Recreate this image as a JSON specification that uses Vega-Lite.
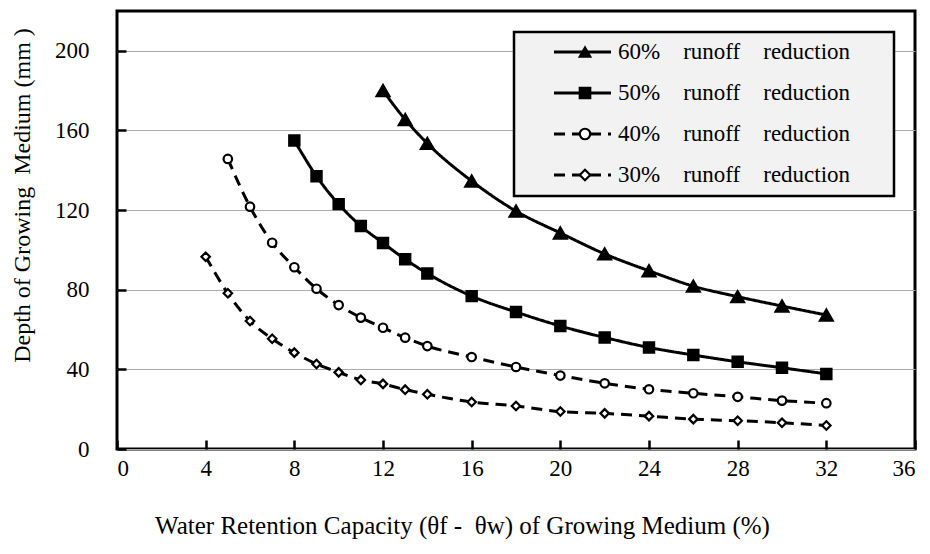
{
  "$schema": "https://vega.github.io/schema/vega-lite/v6.json",
  "width": 798,
  "height": 438,
  "autosize": {"type": "none"},
  "padding": {"left": 117, "top": 11, "right": 15, "bottom": 105},
  "background": "white",
  "config": {
    "font": "Liberation Serif",
    "view": {"stroke": "black", "strokeWidth": 3}
  },
  "datasets": {
    "curves": [
      {"s": "60%", "x": 12, "y": 180},
      {"s": "60%", "x": 13, "y": 165.5},
      {"s": "60%", "x": 14, "y": 153.5},
      {"s": "60%", "x": 16, "y": 134.6},
      {"s": "60%", "x": 18, "y": 119.5},
      {"s": "60%", "x": 20, "y": 108.5},
      {"s": "60%", "x": 22, "y": 98},
      {"s": "60%", "x": 24, "y": 89.5},
      {"s": "60%", "x": 26, "y": 81.8},
      {"s": "60%", "x": 28, "y": 76.5},
      {"s": "60%", "x": 30, "y": 71.8},
      {"s": "60%", "x": 32, "y": 67.3},
      {"s": "50%", "x": 8, "y": 155},
      {"s": "50%", "x": 9, "y": 137},
      {"s": "50%", "x": 10, "y": 123},
      {"s": "50%", "x": 11, "y": 112},
      {"s": "50%", "x": 12, "y": 103.5},
      {"s": "50%", "x": 13, "y": 95.3},
      {"s": "50%", "x": 14, "y": 88.2},
      {"s": "50%", "x": 16, "y": 76.8},
      {"s": "50%", "x": 18, "y": 68.8},
      {"s": "50%", "x": 20, "y": 61.8},
      {"s": "50%", "x": 22, "y": 56},
      {"s": "50%", "x": 24, "y": 51},
      {"s": "50%", "x": 26, "y": 47.2},
      {"s": "50%", "x": 28, "y": 43.8},
      {"s": "50%", "x": 30, "y": 40.8},
      {"s": "50%", "x": 32, "y": 37.7},
      {"s": "40%", "x": 5, "y": 145.7},
      {"s": "40%", "x": 6, "y": 121.7},
      {"s": "40%", "x": 7, "y": 103.6},
      {"s": "40%", "x": 8, "y": 91.3},
      {"s": "40%", "x": 9, "y": 80.5},
      {"s": "40%", "x": 10, "y": 72.3},
      {"s": "40%", "x": 11, "y": 66},
      {"s": "40%", "x": 12, "y": 60.9},
      {"s": "40%", "x": 13, "y": 55.9},
      {"s": "40%", "x": 14, "y": 51.7},
      {"s": "40%", "x": 16, "y": 46.2},
      {"s": "40%", "x": 18, "y": 41.2},
      {"s": "40%", "x": 20, "y": 36.9},
      {"s": "40%", "x": 22, "y": 33},
      {"s": "40%", "x": 24, "y": 30},
      {"s": "40%", "x": 26, "y": 28},
      {"s": "40%", "x": 28, "y": 26.2},
      {"s": "40%", "x": 30, "y": 24.3},
      {"s": "40%", "x": 32, "y": 23},
      {"s": "30%", "x": 4, "y": 96.6},
      {"s": "30%", "x": 5, "y": 78.2},
      {"s": "30%", "x": 6, "y": 64.3},
      {"s": "30%", "x": 7, "y": 55.4},
      {"s": "30%", "x": 8, "y": 48.4},
      {"s": "30%", "x": 9, "y": 42.7},
      {"s": "30%", "x": 10, "y": 38.5},
      {"s": "30%", "x": 11, "y": 34.7},
      {"s": "30%", "x": 12, "y": 32.7},
      {"s": "30%", "x": 13, "y": 29.8},
      {"s": "30%", "x": 14, "y": 27.5},
      {"s": "30%", "x": 16, "y": 23.6},
      {"s": "30%", "x": 18, "y": 21.6},
      {"s": "30%", "x": 20, "y": 18.8},
      {"s": "30%", "x": 22, "y": 17.9},
      {"s": "30%", "x": 24, "y": 16.5},
      {"s": "30%", "x": 26, "y": 15},
      {"s": "30%", "x": 28, "y": 14.2},
      {"s": "30%", "x": 30, "y": 13.2},
      {"s": "30%", "x": 32, "y": 11.8}
    ]
  },
  "data": {"name": "curves"},
  "encoding": {
    "x": {
      "field": "x",
      "type": "quantitative",
      "scale": {"domain": [0, 36], "nice": false, "zero": false},
      "axis": {
        "values": [0, 4, 8, 12, 16, 20, 24, 28, 32, 36],
        "grid": false,
        "domain": false,
        "tickSize": -9,
        "tickWidth": 2.5,
        "tickColor": "black",
        "labelFont": "Liberation Serif",
        "labelFontSize": 23,
        "labelColor": "black",
        "labelPadding": 17,
        "titleFont": "Liberation Serif",
        "titleFontSize": 25,
        "titleFontWeight": "normal",
        "titleColor": "black",
        "title": "Water Retention Capacity (θf -\u00a0\u00a0θw) of Growing Medium (%)",
        "titleX": 345,
        "titleY": 76,
        "titleBaseline": "middle",
        "titleAlign": "center"
      }
    },
    "y": {
      "field": "y",
      "type": "quantitative",
      "scale": {"domain": [0, 220], "nice": false},
      "axis": {
        "values": [0, 40, 80, 120, 160, 200],
        "grid": true,
        "gridColor": "#aaaaaa",
        "gridWidth": 1,
        "domain": false,
        "tickSize": -9,
        "tickWidth": 2.5,
        "tickColor": "black",
        "labelFont": "Liberation Serif",
        "labelFontSize": 23,
        "labelColor": "black",
        "labelPadding": 37,
        "titleFont": "Liberation Serif",
        "titleFontSize": 24,
        "titleFontWeight": "normal",
        "titleColor": "black",
        "title": "Depth of Growing\u00a0\u00a0Medium (mm\u00a0)",
        "titleAngle": -90,
        "titleX": -95,
        "titleY": 184,
        "titleBaseline": "middle",
        "titleAlign": "center"
      }
    }
  },
  "layer": [
    {
      "mark": {"type": "line", "interpolate": "monotone", "strokeWidth": 3, "color": "black"},
      "encoding": {
        "detail": {"field": "s"},
        "strokeDash": {
          "field": "s",
          "type": "nominal",
          "scale": {"domain": ["60%", "50%", "40%", "30%"], "range": [[1, 0], [1, 0], [11, 7], [11, 7]]},
          "legend": {
            "title": null,
            "orient": "top-right",
            "offset": 21,
            "padding": 8.5,
            "rowPadding": 17,
            "clipHeight": 23,
            "fillColor": "#f2f2f2",
            "strokeColor": "black",
            "symbolType": "stroke",
            "symbolSize": 3249,
            "symbolStrokeWidth": 3,
            "symbolStrokeColor": "black",
            "symbolOffset": 30,
            "labelOffset": 5.5,
            "labelLimit": 500,
            "labelFont": "Liberation Serif",
            "labelFontSize": 23,
            "labelColor": "black",
            "labelExpr": "datum.label + '\u00a0\u00a0\u00a0\u00a0runoff\u00a0\u00a0\u00a0\u00a0reduction\u00a0\u00a0\u00a0\u00a0\u00a0\u00a0\u200b'",
            "encode": {"legend": {"update": {"strokeWidth": {"value": 2.5}}}}
          }
        }
      }
    },
    {
      "mark": {"type": "point", "filled": false, "color": "black", "strokeWidth": 2.2, "opacity": 1},
      "encoding": {
        "shape": {
          "field": "s",
          "type": "nominal",
          "scale": {"domain": ["60%", "50%", "40%", "30%"], "range": ["triangle-up", "square", "circle", "diamond"]},
          "legend": {
            "title": null,
            "orient": "none",
            "legendX": 396,
            "legendY": 21,
            "padding": 8.5,
            "rowPadding": 17,
            "clipHeight": 23,
            "fillColor": "transparent",
            "strokeColor": "transparent",
            "symbolSize": 110,
            "symbolStrokeWidth": 2.2,
            "symbolOffset": 52,
            "labelFont": "Liberation Serif",
            "labelFontSize": 23,
            "labelExpr": "''"
          }
        },
        "fill": {
          "field": "s",
          "type": "nominal",
          "scale": {"domain": ["60%", "50%", "40%", "30%"], "range": ["black", "black", "white", "white"]}
        },
        "stroke": {
          "field": "s",
          "type": "nominal",
          "scale": {"domain": ["60%", "50%", "40%", "30%"], "range": ["black", "black", "black", "black"]}
        },
        "size": {
          "condition": [
            {"test": "datum.s == '60%'", "value": 165},
            {"test": "datum.s == '50%'", "value": 105}
          ],
          "value": 72
        }
      }
    }
  ]
}
